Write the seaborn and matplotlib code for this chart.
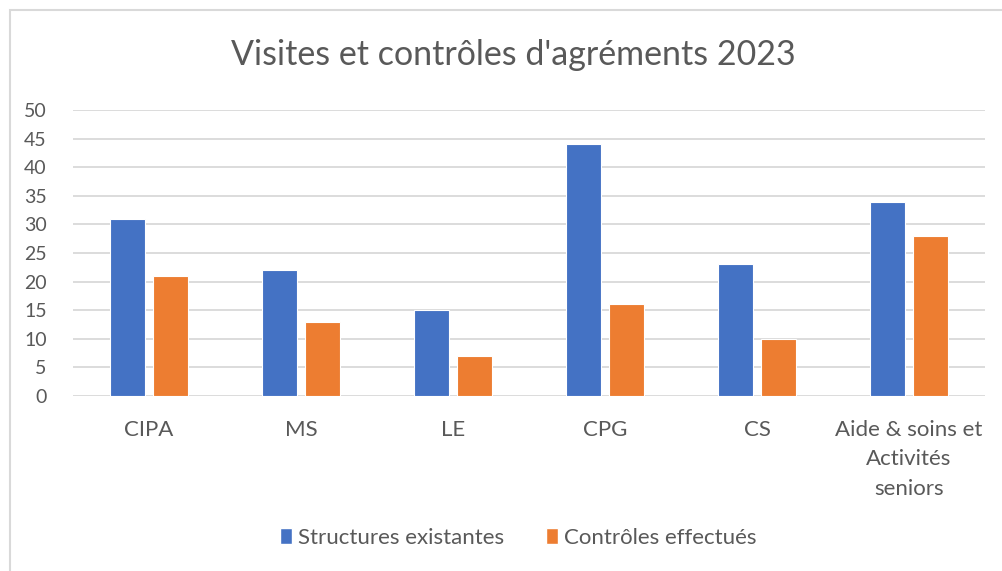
import matplotlib
matplotlib.use('Agg')
import matplotlib.pyplot as plt
import seaborn as sns
import pandas as pd
from matplotlib.patches import Rectangle, Patch

# Données
categories = ["CIPA", "MS", "LE", "CPG", "CS", "Aide & soins et\nActivités\nseniors"]
structures = [31, 22, 15, 44, 23, 34]
controles = [21, 13, 7, 16, 10, 28]
series = ["Structures existantes", "Contrôles effectués"]
couleurs = ["#4472C4", "#ED7D31"]

df = pd.DataFrame({
    "categorie": categories * 2,
    "valeur": structures + controles,
    "serie": [series[0]] * len(categories) + [series[1]] * len(categories),
})

sns.set_theme(style="white")
plt.rcParams['font.family'] = ['Lato', 'DejaVu Sans']
gris = "#595959"

fig = plt.figure(figsize=(10.02, 5.71), dpi=100)
ax = fig.add_axes([73 / 1002, 1 - 396 / 571, (985 - 73) / 1002, (396 - 110) / 571])

sns.barplot(data=df, x="categorie", y="valeur", hue="serie", palette=couleurs,
            saturation=1, width=0.57, gap=0.2, edgecolor="white", linewidth=0.8,
            ax=ax, legend=False)

ax.set_ylim(0, 50)
ax.set_yticks(range(0, 51, 5))
ax.set_xlim(-0.5, len(categories) - 0.5)
ax.grid(axis="y", color="#D9D9D9", linewidth=1.3)
ax.set_axisbelow(True)
for s in ax.spines.values():
    s.set_visible(False)
ax.set_xlabel("")
ax.set_ylabel("")
ax.tick_params(axis="y", length=0, pad=19, labelsize=14, labelcolor=gris)
ax.tick_params(axis="x", length=0, pad=17, labelsize=16, labelcolor=gris)
for lab in ax.get_xticklabels():
    lab.set_linespacing(1.6)
    lab.set_va("top")

fig.text(0.512, 1 - 55 / 571, "Visites et contrôles d'agréments 2023",
         ha="center", va="center", fontsize=24.5, color=gris)

handles = [Patch(facecolor=c, edgecolor="white") for c in couleurs]
fig.legend(handles, series, loc="center", bbox_to_anchor=(0.517, 1 - 538 / 571),
           ncol=2, frameon=False, fontsize=16, labelcolor=gris,
           handlelength=0.55, handleheight=0.7, handletextpad=0.25, columnspacing=1.9)

# Cadre du graphique
fig.patches.append(Rectangle((10 / 1002, -0.05), 1.1, 1 - 10 / 571 + 0.05,
                             transform=fig.transFigure, fill=False,
                             edgecolor="#D9D9D9", linewidth=1.5))

fig.savefig("out.png", dpi=100, facecolor="white")
